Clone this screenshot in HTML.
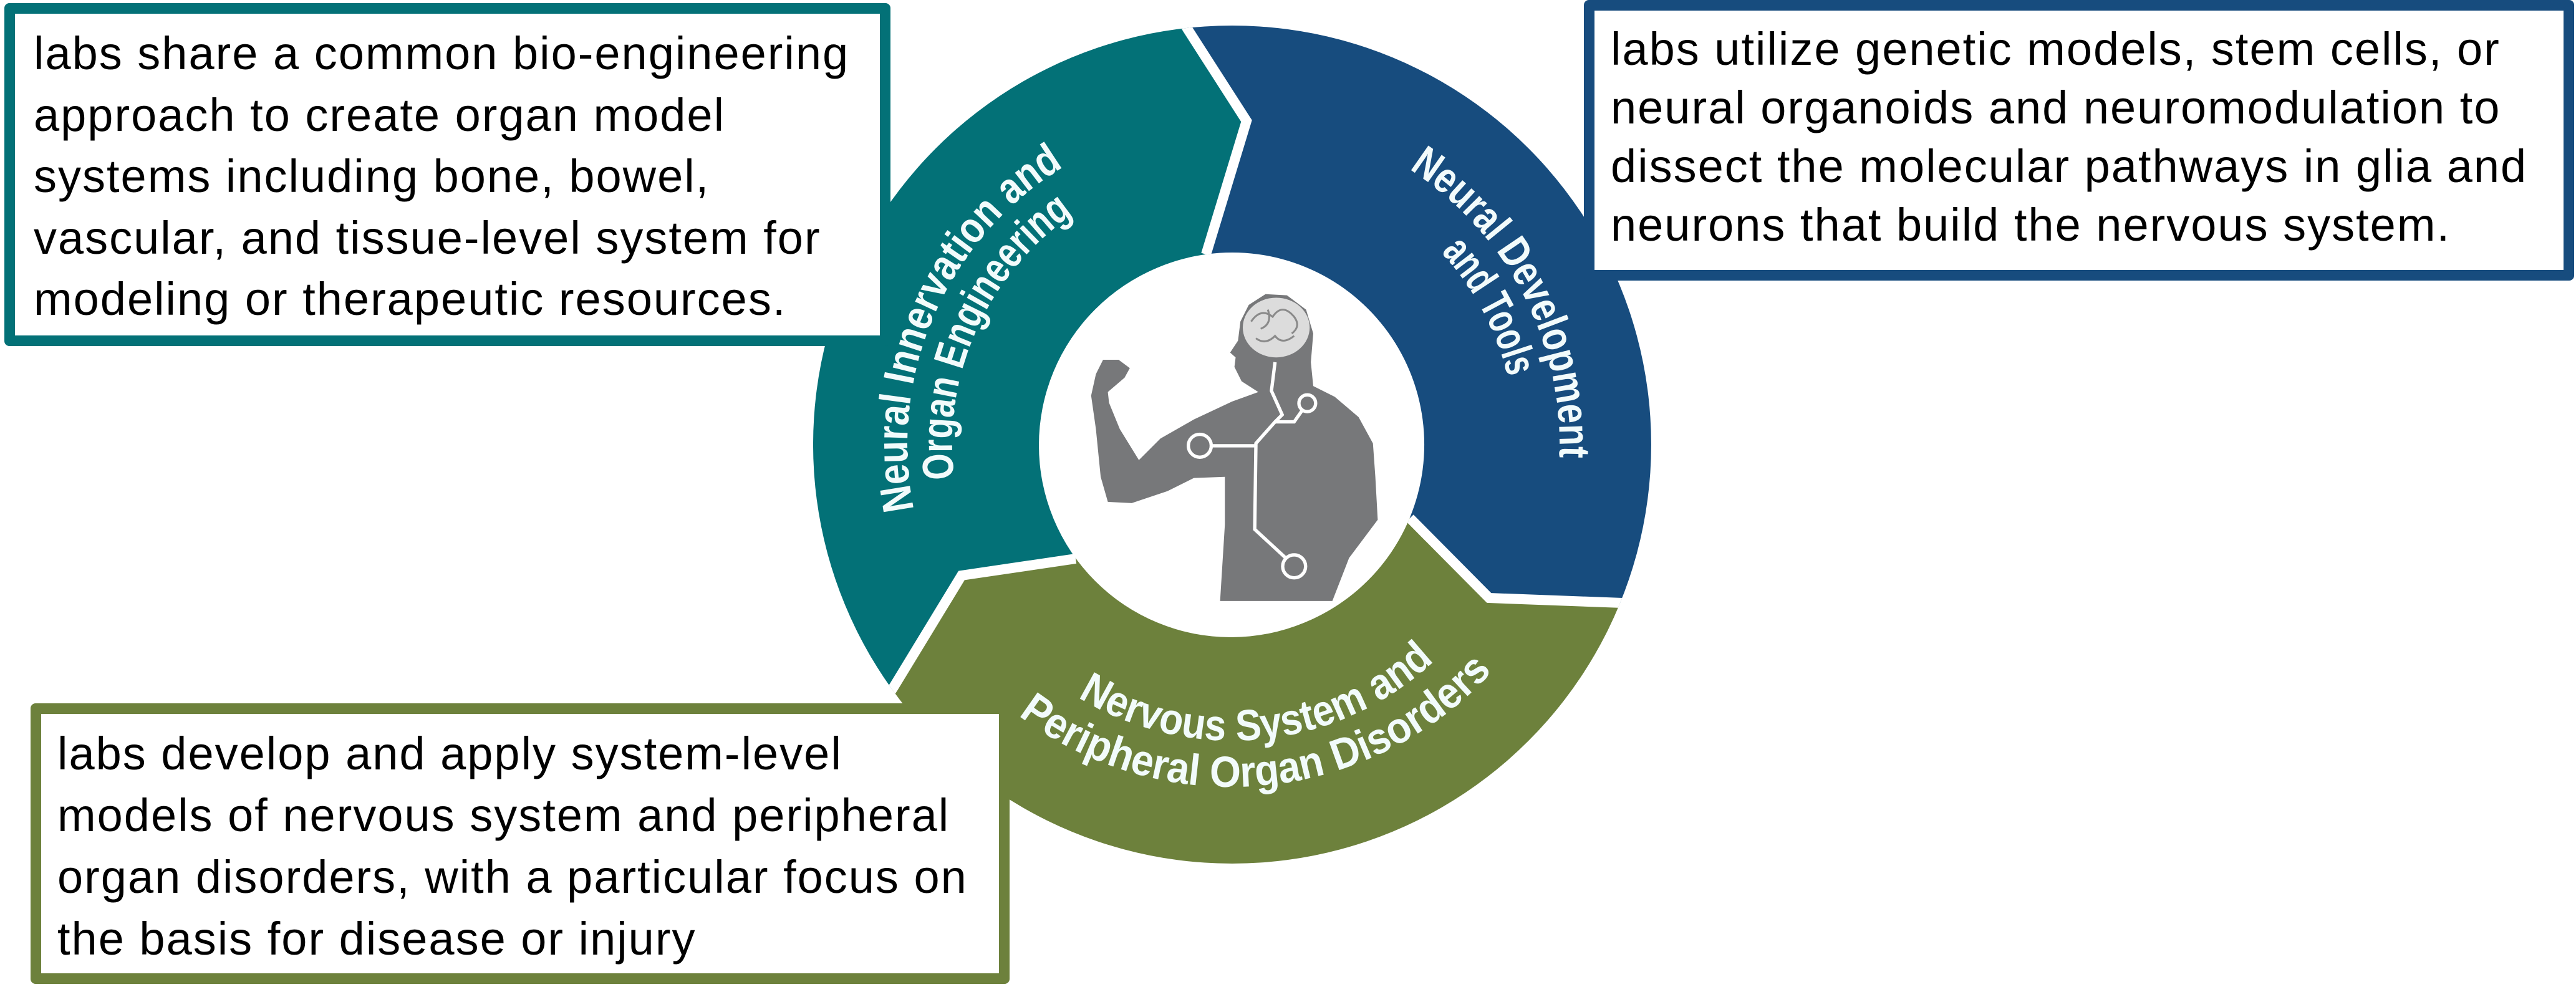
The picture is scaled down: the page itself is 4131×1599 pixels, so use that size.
<!DOCTYPE html>
<html><head><meta charset="utf-8"><style>
html,body{margin:0;padding:0;background:#fff;overflow:hidden;}
body{width:4131px;height:1599px;position:relative;overflow:hidden;font-family:"Liberation Sans",Arial,sans-serif;}
.box{position:absolute;box-sizing:border-box;background:#fff;border:17px solid;border-radius:8px;white-space:nowrap;font-size:74px;letter-spacing:2px;color:#000;overflow:hidden;}
svg{position:absolute;left:0;top:0;}
</style></head><body>
<svg width="4131" height="1599" viewBox="0 0 4131 1599">
<defs>
<clipPath id="ring"><path fill-rule="evenodd" clip-rule="evenodd" d="M1976 41 A672 672 0 1 1 1975.9 41 Z M1976 405 A308 308 0 1 0 1976.1 405 Z"/></clipPath>
<path id="t1" d="M1687.7 1146.9 A521 521 0 0 1 2098.5 206.6"/>
<path id="t2" d="M1723.6 1084.4 A449 449 0 0 1 2086.1 277.7"/>
<path id="b1" d="M1818.1 212.3 A525 525 0 0 1 2295.6 1129.5"/>
<path id="b2" d="M1833.9 280.7 A455 455 0 0 1 2257.4 1070.6"/>
<path id="g1" d="M1519 842.3 A475 475 0 0 0 2449.7 747.8"/>
<path id="g2" d="M1433.9 861.3 A565 565 0 0 0 2536.1 759"/>
</defs>
<g clip-path="url(#ring)">
<polygon fill="#037177" points="1976,713 1934,408 1999,194 1904,46 1860,-30 -500,-500 -500,1800 1370,1200 1433,1102 1542,923 1725,896"/>
<polygon fill="#174c7e" points="1976,713 1934,408 1999,194 1904,46 1860,-30 3000,-500 3000,972 2800,972 2602,967 2388,959 2261,831"/>
<polygon fill="#6d813c" points="1976,713 2261,831 2388,959 2602,967 2800,972 3000,2000 1000,2000 1370,1200 1433,1102 1542,923 1725,896"/>
<g fill="none" stroke="#fff" stroke-width="16" stroke-linejoin="miter">
<polyline points="1934,408 1999,194 1904,46 1860,-30"/>
<polyline points="2261,831 2388,959 2602,967 2800,972"/>
<polyline points="1725,896 1542,923 1433,1102 1370,1200"/>
</g>
</g>
<circle cx="1974" cy="714" r="308" fill="#fff"/>
<g font-family="'Liberation Sans',Arial,sans-serif" font-weight="bold" font-size="70" fill="#f2fbfb" text-anchor="middle">
<text><textPath href="#t1" startOffset="50%" textLength="639" lengthAdjust="spacingAndGlyphs">Neural Innervation and</textPath></text>
<text><textPath href="#t2" startOffset="50%" textLength="489" lengthAdjust="spacingAndGlyphs">Organ Engineering</textPath></text>
<text><textPath href="#b1" startOffset="50%" textLength="546" lengthAdjust="spacingAndGlyphs">Neural Development</textPath></text>
<text><textPath href="#b2" startOffset="50%" textLength="230" lengthAdjust="spacingAndGlyphs">and Tools</textPath></text>
<text><textPath href="#g1" startOffset="50%" textLength="617" lengthAdjust="spacingAndGlyphs">Nervous System and</textPath></text>
<text><textPath href="#g2" startOffset="50%" textLength="838" lengthAdjust="spacingAndGlyphs">Peripheral Organ Disorders</textPath></text>
</g>
<g transform="translate(1700,420) scale(0.383)">
<path fill="#77787a" d="M760 500 L830 545 L720 585 L560 660 L420 740 L330 830 L250 700 L205 590 L200 545 L270 485 L292 445 L245 410 L180 410 L150 470 L130 560 L150 700 L170 900 L200 1005 L300 1010 L450 960 L560 905 L690 900 L690 1100 L670 1420 L1140 1420 L1210 1240 L1330 1080 L1320 900 L1310 760 L1250 650 L1150 565 L1060 520 L1050 420 L1060 300 L1030 200 L950 140 L860 135 L790 180 L755 250 L745 330 L712 380 L735 400 L730 440 L745 470 Z"/>
<ellipse cx="905" cy="275" rx="140" ry="125" fill="#dcdcdc"/>
<g fill="none" stroke="#8a8a8a" stroke-width="8">
<path d="M800 250 q40 -60 90 -20 q40 -60 90 0 q30 40 -10 70 M820 320 q40 30 80 -10 q30 40 80 0 M870 200 q20 60 -30 80"/>
</g>
<g fill="none" stroke="#fff" stroke-width="14">
<polyline points="900,420 885,540 930,640 900,670 820,760 815,1120 945,1240"/>
<line x1="820" y1="770" x2="630" y2="770"/>
<polyline points="900,670 980,670 1015,620"/>
<circle cx="980" cy="1275" r="48"/>
<circle cx="585" cy="770" r="48"/>
<circle cx="1035" cy="592" r="35"/>
</g>
</g>
</svg>
<div class="box" style="left:7px;top:5px;width:1421px;height:550px;border-color:#037177;padding:15px 0 0 30px;line-height:98.5px;">labs share a common bio-engineering<br>approach to create organ model<br>systems including bone, bowel,<br>vascular, and tissue-level system for<br>modeling or therapeutic resources.</div>
<div class="box" style="left:2540px;top:0px;width:1588px;height:450px;border-color:#174c7e;padding:15px 0 0 26px;line-height:94px;">labs utilize genetic models, stem cells, or<br>neural organoids and neuromodulation to<br>dissect the molecular pathways in glia and<br>neurons that build the nervous system.</div>
<div class="box" style="left:49px;top:1128px;width:1570px;height:450px;border-color:#6d813c;padding:14px 0 0 26px;line-height:99px;">labs develop and apply system-level<br>models of nervous system and peripheral<br>organ disorders, with a particular focus on<br>the basis for disease or injury</div>
</body></html>
